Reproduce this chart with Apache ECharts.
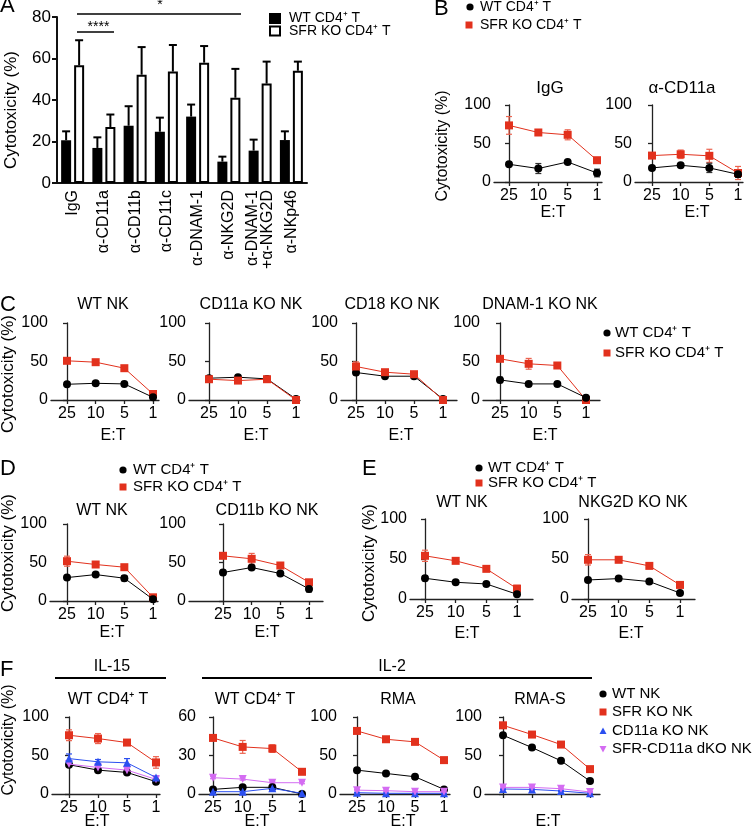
<!DOCTYPE html>
<html><head><meta charset="utf-8">
<script src="https://cdn.jsdelivr.net/npm/echarts@6/dist/echarts.min.js"></script>
<style>html,body{margin:0;padding:0;background:#fff}#c{width:754px;height:830px}</style>
</head><body><div id="c"></div>
<script>
// ---------------- DATA ----------------
const etLabels = ['25', '10', '5', '1'];

// Panel A (bar chart, mean + upper error)
const aCategories = ['IgG', 'α-CD11a', 'α-CD11b', 'α-CD11c', 'α-DNAM-1', 'α-NKG2D', 'α-DNAM-1\n+α-NKG2D', 'α-NKp46'];
const aWT = [20.6, 16.9, 27.6, 24.7, 32, 10.3, 15.6, 20.7];
const aWTErr = [4.3, 5.1, 9.4, 6.8, 5.8, 2.4, 5.3, 4.2];
const aSFR = [56.7, 27, 52.2, 53.7, 58, 41.1, 47.9, 54.1];
const aSFRErr = [12.1, 6, 13.3, 12.8, 8, 13.9, 10.6, 4.4];

// Panel B
const bIgGWT = [23, 17.5, 26, 11.7];        const bIgGWTErr = [1.5, 6.5, 1.5, 5];
const bIgGSFR = [73.5, 64.3, 61.3, 28.3];   const bIgGSFRErr = [11.5, 2, 6.5, 2];
const bCD11aWT = [18.3, 21.7, 18.3, 10];    const bCD11aWTErr = [3, 2, 6, 4];
const bCD11aSFR = [34.3, 36, 34, 11.7];     const bCD11aSFRErr = [2, 5.5, 8.5, 8.5];

// Panel C
const cWtNkWT = [20.4, 21.7, 20.9, 3.5];    const cWtNkWTErr = [2, 2, 2, 1.5];
const cWtNkSFR = [50.9, 49.1, 41.3, 7.8];   const cWtNkSFRErr = [2, 2, 2, 2];
const cCD11aWT = [28.3, 29.6, 27.4, 1.3];   const cCD11aWTErr = [3, 1.5, 2, 1];
const cCD11aSFR = [27, 25.2, 27, 0];        const cCD11aSFRErr = [3, 2, 2, 1];
const cCD18WT = [35.7, 30.9, 30.9, 1.3];    const cCD18WTErr = [3, 1.5, 2, 1];
const cCD18SFR = [43.5, 36.1, 33.5, 0];     const cCD18SFRErr = [6, 2, 2, 1];
const cDnamWT = [26.1, 20.9, 20.9, 3];      const cDnamWTErr = [3.5, 1.5, 1.5, 1];
const cDnamSFR = [53.5, 47, 44.8, 0];       const cDnamSFRErr = [2, 7, 2, 1];

// Panel D
const dWtNkWT = [30.4, 34.3, 29.6, 2.2];    const dWtNkWTErr = [2.5, 2, 3.5, 1];
const dWtNkSFR = [51.7, 47.4, 43.9, 4.8];   const dWtNkSFRErr = [6.5, 2, 2, 2];
const dCD11bWT = [37, 43.5, 35.7, 15.7];    const dCD11bWTErr = [3, 2, 2, 4];
const dCD11bSFR = [58.7, 54.8, 46.1, 24.3]; const dCD11bSFRErr = [2, 7, 2, 2];

// Panel E
const eWtNkWT = [25.9, 20.9, 18.8, 5.9];    const eWtNkWTErr = [3, 1.5, 1.5, 1];
const eWtNkSFR = [54, 47.7, 37.7, 13];      const eWtNkSFRErr = [7, 2, 2, 4];
const eNkg2dWT = [23.8, 25.5, 21.8, 7.5];   const eNkg2dWTErr = [3, 1.5, 1.5, 1];
const eNkg2dSFR = [49, 49, 41.4, 17.6];     const eNkg2dSFRErr = [6.5, 2, 2, 3];

// Panel F
const fIl15WT = [38, 31, 28, 16];           const fIl15WTErr = [2, 2, 2, 2];
const fIl15SFR = [76.3, 72, 66.8, 41];      const fIl15SFRErr = [7, 6.5, 2, 7.5];
const fIl15CD11a = [46, 41.8, 40.5, 21.5];  const fIl15CD11aErr = [6, 3, 5.5, 2];
const fIl15DKO = [38.8, 34.5, 31, 19];      const fIl15DKOErr = [2, 2, 2, 2];
const fIl2WT = [3.6, 5.2, 5.2, 0];          const fIl2WTErr = [0.8, 0.8, 0.8, 0.5];
const fIl2SFR = [43.7, 36.7, 35.4, 17.3];   const fIl2SFRErr = [1.5, 5, 3, 1];
const fIl2CD11a = [1.8, 1.8, 4.4, 0.5];     const fIl2CD11aErr = [0.8, 0.8, 1.5, 0.5];
const fIl2DKO = [12.7, 11.6, 8.8, 8.8];     const fIl2DKOErr = [0.8, 0.8, 0.8, 0.8];
const fRmaWT = [31, 26.7, 22.4, 6];         const fRmaWTErr = [1, 1, 1, 1];
const fRmaSFR = [81.9, 71.1, 67.7, 44];     const fRmaSFRErr = [1, 1, 1, 1];
const fRmaCD11a = [1.7, 0.9, 0.9, 0.9];     const fRmaCD11aErr = [0.5, 0.5, 0.5, 0.5];
const fRmaDKO = [5, 4.3, 3, 3];             const fRmaDKOErr = [0.8, 0.8, 0.8, 0.8];
const fRmaSWT = [76.3, 60.3, 43.1, 16.8];   const fRmaSWTErr = [1, 1, 1, 1];
const fRmaSSFR = [89.2, 77.2, 64.2, 32.3];  const fRmaSSFRErr = [1, 1, 1, 1];
const fRmaSCD11a = [6.5, 6, 3.9, 0.9];      const fRmaSCD11aErr = [0.8, 0.8, 0.8, 0.5];
const fRmaSDKO = [8.6, 8.6, 6.9, 2.6];      const fRmaSDKOErr = [0.8, 0.8, 0.8, 0.8];

// ---------------- STYLE / LAYOUT ----------------
const FF = 'Arial, "Liberation Sans", Helvetica, sans-serif';
const AX = '#222';
const RED = '#e2311d', RED_ERR = '#ec6450', BLACK = '#000', BLUE = '#2b4ff0', PINK = '#d46cf2';
const sWT = {color: BLACK, err: '#333', symbol: 'circle', size: 8};
const sSFR = {color: RED, err: RED_ERR, symbol: 'rect', size: 8};
const sCD11a = {color: BLUE, err: BLUE, symbol: 'triangle', size: 8};
const sDKO = {color: PINK, err: PINK, symbol: 'triangle', rot: 180, size: 8};

const grids = [], xAxes = [], yAxes = [], series = [];

function errLine(color, cap, width, both, offset) {
  return function (params, api) {
    const i = api.value(0);
    const lo = api.coord([i, api.value(1)]);
    const hi = api.coord([i, api.value(2)]);
    const x = lo[0] + (offset || 0);
    const st = {stroke: color, lineWidth: width};
    const ch = [
      {type: 'line', shape: {x1: x, y1: lo[1], x2: x, y2: hi[1]}, style: st},
      {type: 'line', shape: {x1: x - cap, y1: hi[1], x2: x + cap, y2: hi[1]}, style: st}
    ];
    if (both) ch.push({type: 'line', shape: {x1: x - cap, y1: lo[1], x2: x + cap, y2: lo[1]}, style: st});
    return {type: 'group', children: ch};
  };
}

// ----- Panel A -----
grids.push({left: 57, top: 17, width: 250, height: 166});
xAxes.push({gridIndex: 0, type: 'category', data: aCategories,
  axisLine: {show: true, lineStyle: {color: '#111', width: 2}},
  axisTick: {show: false},
  axisLabel: {rotate: 90, interval: 0, fontSize: 16, color: '#000', fontFamily: FF, margin: 7, lineHeight: 15}});
yAxes.push({gridIndex: 0, type: 'value', min: 0, max: 80, interval: 20,
  axisLine: {show: true, lineStyle: {color: '#111', width: 2}},
  axisTick: {show: true, length: 5, lineStyle: {color: '#111', width: 2}},
  axisLabel: {fontSize: 17, color: '#000', fontFamily: FF, margin: 6},
  splitLine: {show: false}});
series.push({type: 'custom', xAxisIndex: 0, yAxisIndex: 0, silent: true, z: 1,
  renderItem: errLine('#000', 4, 2, false, -6.5),
  data: aWT.map((v, i) => [i, v, v + aWTErr[i]])});
series.push({type: 'custom', xAxisIndex: 0, yAxisIndex: 0, silent: true, z: 1,
  renderItem: errLine('#000', 4, 2, false, 6.5),
  data: aSFR.map((v, i) => [i, v, v + aSFRErr[i]])});
series.push({type: 'bar', xAxisIndex: 0, yAxisIndex: 0, data: aWT, barWidth: 10, barGap: '30%', z: 3,
  itemStyle: {color: '#000', borderColor: '#000', borderWidth: 0}});
series.push({type: 'bar', xAxisIndex: 0, yAxisIndex: 0, data: aSFR, barWidth: 10, z: 3,
  itemStyle: {color: '#fff', borderColor: '#000', borderWidth: 2}});

// ----- line panels -----
function addLineGrid(g, groups) {
  const idx = grids.length;
  const ymax = g.ymax || 100;
  grids.push({left: g.ax, top: g.top, width: g.end - g.ax, height: g.bottom - g.top});
  const unit = (g.p3 - g.p0) / 3;
  xAxes.push({gridIndex: idx, type: 'value', min: -(g.p0 - g.ax) / unit, max: 3 + (g.end - g.p3) / unit,
    axisLine: {show: true, onZero: false, lineStyle: {color: AX, width: 1.3}},
    axisTick: {show: true, customValues: [0, 1, 2, 3], length: 4, lineStyle: {color: AX, width: 1.3}},
    axisLabel: {show: g.labels !== false, customValues: [0, 1, 2, 3], formatter: v => etLabels[Math.round(v)],
      fontSize: 16, color: '#000', fontFamily: FF, margin: 6},
    splitLine: {show: false}});
  yAxes.push({gridIndex: idx, type: 'value', min: 0, max: ymax, interval: ymax / 2,
    axisLine: {show: true, lineStyle: {color: AX, width: 1.3}},
    axisTick: {show: true, length: 4, lineStyle: {color: AX, width: 1.3}},
    axisLabel: {fontSize: 16, color: '#000', fontFamily: FF, margin: 3},
    splitLine: {show: false}});
  groups.forEach(([st, vals, errs], k) => {
    series.push({type: 'custom', xAxisIndex: idx, yAxisIndex: idx, silent: true, z: 2 + k,
      renderItem: errLine(st.err, 3, 1.2, true, 0),
      data: vals.map((v, i) => [i, Math.max(0, v - errs[i]), v + errs[i]])});
    series.push({type: 'line', xAxisIndex: idx, yAxisIndex: idx, data: vals.map((v, i) => [i, v]),
      symbol: st.symbol, symbolSize: st.size, symbolRotate: st.rot || 0, showAllSymbol: true,
      itemStyle: {color: st.color}, lineStyle: {color: st.color, width: 1}, z: 3 + k, clip: false});
  });
}

addLineGrid({ax: 494, end: 602, top: 105, bottom: 182, p0: 509, p3: 597},
  [[sSFR, bIgGSFR, bIgGSFRErr], [sWT, bIgGWT, bIgGWTErr]]);
addLineGrid({ax: 635, end: 743, top: 105, bottom: 182, p0: 652, p3: 738},
  [[sSFR, bCD11aSFR, bCD11aSFRErr], [sWT, bCD11aWT, bCD11aWTErr]]);

addLineGrid({ax: 51, end: 159, top: 323, bottom: 400, p0: 67, p3: 153},
  [[sSFR, cWtNkSFR, cWtNkSFRErr], [sWT, cWtNkWT, cWtNkWTErr]]);
addLineGrid({ax: 189, end: 300, top: 323, bottom: 400, p0: 209, p3: 296},
  [[sWT, cCD11aWT, cCD11aWTErr], [sSFR, cCD11aSFR, cCD11aSFRErr]]);
addLineGrid({ax: 341, end: 457, top: 323, bottom: 400, p0: 356, p3: 443},
  [[sWT, cCD18WT, cCD18WTErr], [sSFR, cCD18SFR, cCD18SFRErr]]);
addLineGrid({ax: 483, end: 600, top: 323, bottom: 400, p0: 500, p3: 586},
  [[sSFR, cDnamSFR, cDnamSFRErr], [sWT, cDnamWT, cDnamWTErr]]);

addLineGrid({ax: 50, end: 158, top: 524, bottom: 601, p0: 67, p3: 153},
  [[sSFR, dWtNkSFR, dWtNkSFRErr], [sWT, dWtNkWT, dWtNkWTErr]]);
addLineGrid({ax: 189, end: 323, top: 524, bottom: 601, p0: 223, p3: 309},
  [[sSFR, dCD11bSFR, dCD11bSFRErr], [sWT, dCD11bWT, dCD11bWTErr]]);

addLineGrid({ax: 410, end: 533, top: 519, bottom: 599, p0: 425, p3: 517},
  [[sSFR, eWtNkSFR, eWtNkSFRErr], [sWT, eWtNkWT, eWtNkWTErr]]);
addLineGrid({ax: 572, end: 695, top: 519, bottom: 599, p0: 588, p3: 680},
  [[sSFR, eNkg2dSFR, eNkg2dSFRErr], [sWT, eNkg2dWT, eNkg2dWTErr]]);

addLineGrid({ax: 52, end: 160, top: 717, bottom: 794, p0: 69, p3: 156},
  [[sSFR, fIl15SFR, fIl15SFRErr], [sWT, fIl15WT, fIl15WTErr], [sDKO, fIl15DKO, fIl15DKOErr], [sCD11a, fIl15CD11a, fIl15CD11aErr]]);
addLineGrid({ax: 199, end: 304, top: 717, bottom: 794, p0: 213, p3: 302, ymax: 60},
  [[sSFR, fIl2SFR, fIl2SFRErr], [sDKO, fIl2DKO, fIl2DKOErr], [sWT, fIl2WT, fIl2WTErr], [sCD11a, fIl2CD11a, fIl2CD11aErr]]);
addLineGrid({ax: 340, end: 450, top: 717, bottom: 794, p0: 357, p3: 444},
  [[sSFR, fRmaSFR, fRmaSFRErr], [sWT, fRmaWT, fRmaWTErr], [sCD11a, fRmaCD11a, fRmaCD11aErr], [sDKO, fRmaDKO, fRmaDKOErr]]);
addLineGrid({ax: 485, end: 600, top: 717, bottom: 794, p0: 503, p3: 590, labels: false},
  [[sSFR, fRmaSSFR, fRmaSSFRErr], [sWT, fRmaSWT, fRmaSWTErr], [sCD11a, fRmaSCD11a, fRmaSCD11aErr], [sDKO, fRmaSDKO, fRmaSDKOErr]]);

// ---------------- GRAPHIC (text, legends, annotations) ----------------
const G = [];
function txt(text, x, y, size, align, rot) {
  G.push({type: 'text', x: x, y: y, rotation: rot || 0, silent: true,
    style: {text: text, fontSize: size, fontFamily: FF, fill: '#000', align: align || 'center', verticalAlign: 'middle'}});
}
function hline(x1, x2, y, w) {
  G.push({type: 'line', silent: true, shape: {x1: x1, y1: y, x2: x2, y2: y}, style: {stroke: '#000', lineWidth: w || 1.5}});
}
function marker(kind, x, y) {
  if (kind === 'circle') G.push({type: 'circle', silent: true, shape: {cx: x, cy: y, r: 3.6}, style: {fill: BLACK}});
  else if (kind === 'rect') G.push({type: 'rect', silent: true, shape: {x: x - 3.5, y: y - 3.5, width: 7, height: 7}, style: {fill: RED}});
  else if (kind === 'tri') G.push({type: 'polygon', silent: true, shape: {points: [[x, y - 3.5], [x - 3.5, y + 3], [x + 3.5, y + 3]]}, style: {fill: BLUE}});
  else if (kind === 'dtri') G.push({type: 'polygon', silent: true, shape: {points: [[x, y + 3.5], [x - 3.5, y - 3], [x + 3.5, y - 3]]}, style: {fill: PINK}});
}
const ROT = Math.PI / 2;

// panel letters
txt('A', 0, 6, 22, 'left');
txt('B', 434, 9, 22, 'left');
txt('C', 0, 305, 22, 'left');
txt('D', 0, 469, 22, 'left');
txt('E', 362, 469, 22, 'left');
txt('F', 0, 670, 22, 'left');

// y titles
txt('Cytotoxicity (%)', 11, 110, 17, 'center', ROT);
txt('Cytotoxicity (%)', 443, 146, 16, 'center', ROT);
txt('Cytotoxicity (%)', 8, 374, 17, 'center', ROT);
txt('Cytotoxicity (%)', 8, 553, 17, 'center', ROT);
txt('Cytotoxicity (%)', 369, 563, 17, 'center', ROT);
txt('Cytotoxicity (%)', 9, 740, 16, 'center', ROT);

// Panel A legend + significance
G.push({type: 'rect', silent: true, shape: {x: 269, y: 13, width: 12, height: 11}, style: {fill: '#000'}});
G.push({type: 'rect', silent: true, shape: {x: 270, y: 26.5, width: 10, height: 9}, style: {fill: '#fff', stroke: '#000', lineWidth: 2}});
txt('WT CD4⁺ T', 289, 18.5, 14, 'left');
txt('SFR KO CD4⁺ T', 289, 31, 14, 'left');
hline(77, 114, 32, 1.5);
txt('****', 98.5, 27, 14);
hline(77, 241, 14, 1.5);
txt('*', 160, 5, 14);

// Panel B
marker('circle', 470, 7); txt('WT CD4⁺ T', 480, 7, 14, 'left');
marker('rect', 469, 25); txt('SFR KO CD4⁺ T', 480, 25, 14, 'left');
txt('IgG', 550, 88, 17); txt('α-CD11a', 682, 88, 17);
txt('E:T', 553, 213, 16); txt('E:T', 697, 213, 16);

// Panel C
txt('WT NK', 103, 305, 16); txt('CD11a KO NK', 251, 305, 16);
txt('CD18 KO NK', 392, 305, 16); txt('DNAM-1 KO NK', 540, 305, 16);
txt('E:T', 113, 436, 16); txt('E:T', 256, 436, 16); txt('E:T', 401, 436, 16); txt('E:T', 545, 436, 16);
marker('circle', 607, 333); txt('WT CD4⁺ T', 615, 333, 15, 'left');
marker('rect', 607, 353); txt('SFR KO CD4⁺ T', 615, 353, 15, 'left');

// Panel D
marker('circle', 123, 470); txt('WT CD4⁺ T', 133, 470, 15, 'left');
marker('rect', 123, 487); txt('SFR KO CD4⁺ T', 133, 487, 15, 'left');
txt('WT NK', 102, 511, 16); txt('CD11b KO NK', 267, 511, 16);
txt('E:T', 112, 633, 16); txt('E:T', 267, 633, 16);

// Panel E
marker('circle', 479, 468); txt('WT CD4⁺ T', 488, 468, 15, 'left');
marker('rect', 479, 483); txt('SFR KO CD4⁺ T', 488, 483, 15, 'left');
txt('WT NK', 462, 503, 16); txt('NKG2D KO NK', 633, 503, 16);
txt('E:T', 467, 634, 16); txt('E:T', 631, 634, 16);

// Panel F
txt('IL-15', 112, 667, 16); hline(55, 166, 678, 2);
txt('IL-2', 392, 667, 16); hline(202, 592, 678, 2);
txt('WT CD4⁺ T', 108, 700, 16); txt('WT CD4⁺ T', 255, 700, 16);
txt('RMA', 398, 700, 16); txt('RMA-S', 540, 700, 16);
txt('E:T', 97, 822, 16); txt('E:T', 257, 822, 16); txt('E:T', 403, 822, 16); txt('E:T', 548, 822, 16);
marker('circle', 603, 694); txt('WT NK', 612, 694, 15, 'left');
marker('rect', 603, 712); txt('SFR KO NK', 612, 712, 15, 'left');
marker('tri', 603, 731); txt('CD11a KO NK', 612, 731, 15, 'left');
marker('dtri', 603, 749); txt('SFR-CD11a dKO NK', 612, 749, 15, 'left');

const chart = echarts.init(document.getElementById('c'), null, {renderer: 'canvas'});
chart.setOption({
  animation: false,
  backgroundColor: '#fff',
  grid: grids,
  xAxis: xAxes,
  yAxis: yAxes,
  series: series,
  graphic: G
});
</script></body></html>
